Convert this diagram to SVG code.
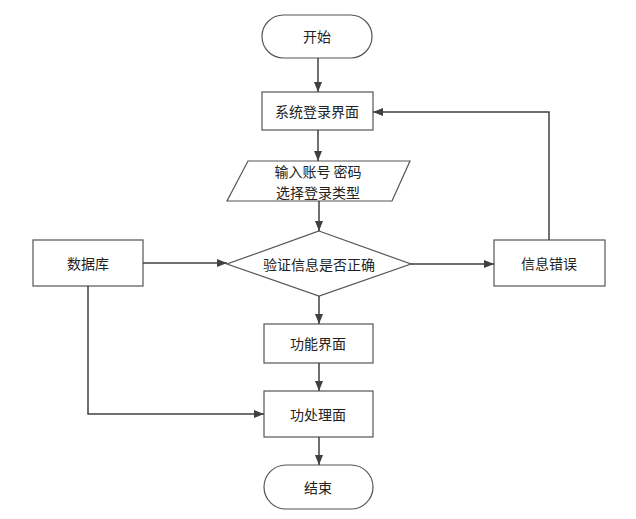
<svg xmlns="http://www.w3.org/2000/svg" width="636" height="519" viewBox="0 0 636 519">
<defs>
<marker id="a" markerWidth="10" markerHeight="8" refX="10" refY="4" orient="auto" markerUnits="userSpaceOnUse"><path d="M0,0 L10,4 L0,8 z" fill="#404040"/></marker>
</defs>
<style>
.s{fill:#fff;stroke:#555;stroke-width:1.2}
.t{font-family:"Noto Sans CJK SC",sans-serif;font-size:14px;fill:#222;text-anchor:middle;dominant-baseline:central}
.c{fill:none;stroke:#404040;stroke-width:1.5;marker-end:url(#a)}
</style>
<rect width="636" height="519" fill="#fff"/>
<g id="start"><rect class="s" x="262" y="15" width="110" height="43" rx="21.5"/><text class="t" x="317" y="36">开始</text></g>
<g id="login"><rect class="s" x="262" y="92" width="111" height="38"/><text class="t" x="317" y="111">系统登录界面</text></g>
<g id="input"><polygon class="s" points="248,161 410,161 392,201 227,201"/><text class="t" x="318" y="171">输入账号 密码</text><text class="t" x="318" y="192">选择登录类型</text></g>
<g id="verify"><polygon class="s" points="319,231 411,264 319,296 227,264"/><text class="t" x="319" y="264">验证信息是否正确</text></g>
<g id="error"><rect class="s" x="494" y="240" width="111" height="46"/><text class="t" x="549" y="263">信息错误</text></g>
<g id="db"><rect class="s" x="33" y="240" width="110" height="46"/><text class="t" x="88" y="263">数据库</text></g>
<g id="func"><rect class="s" x="264" y="324" width="109" height="39"/><text class="t" x="318" y="343">功能界面</text></g>
<g id="proc"><rect class="s" x="264" y="391" width="109" height="46"/><text class="t" x="318" y="414">功处理面</text></g>
<g id="end"><rect class="s" x="264" y="465" width="109" height="44" rx="22"/><text class="t" x="318" y="487">结束</text></g>
<g id="connectors">
<path class="c" d="M318,58 V92"/>
<path class="c" d="M318,130 V161"/>
<path class="c" d="M319,201 V231"/>
<path class="c" d="M411,264 H494"/>
<path class="c" d="M549,240 V112 H373"/>
<path class="c" d="M143,263 H227"/>
<path class="c" d="M319,296 V324"/>
<path class="c" d="M319,363 V391"/>
<path class="c" d="M88,286 V414 H264"/>
<path class="c" d="M319,437 V465"/>
</g>
</svg>
